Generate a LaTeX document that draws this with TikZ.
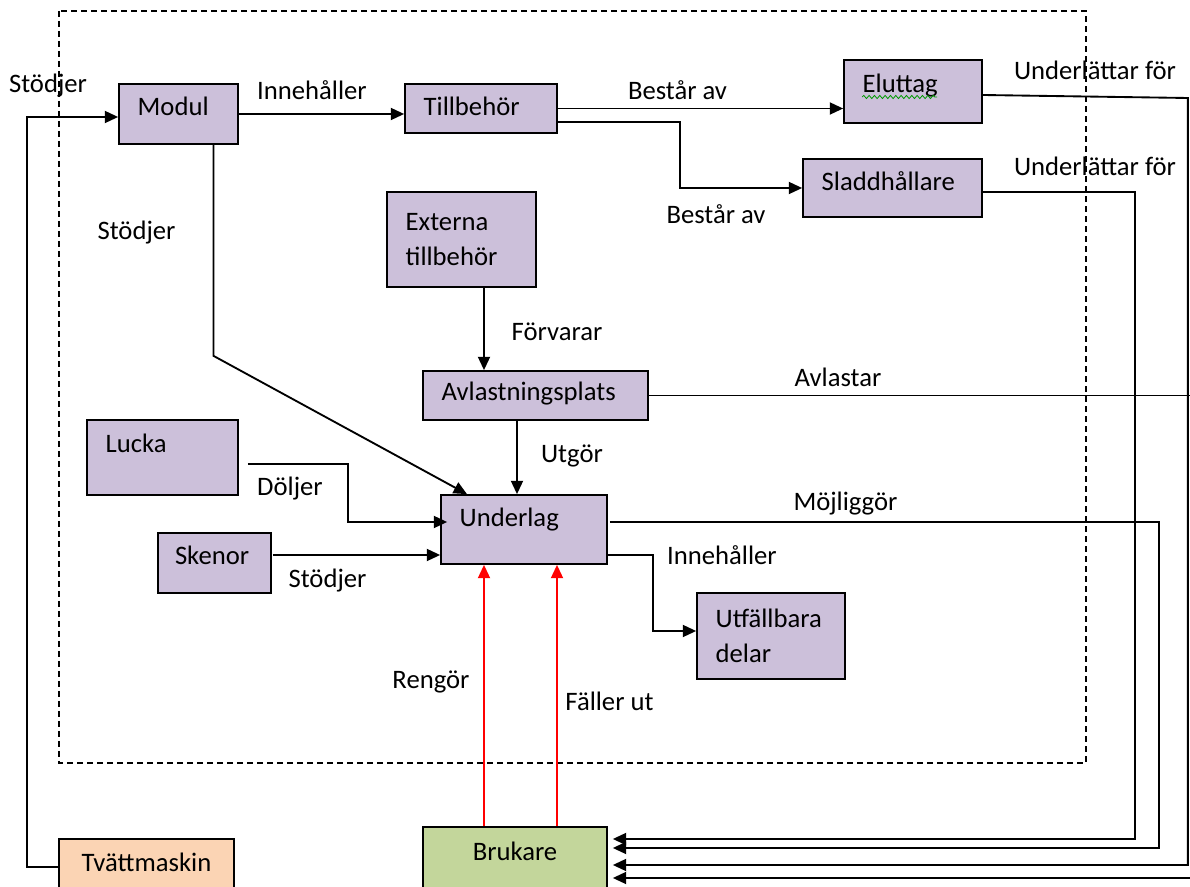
\documentclass[tikz,border=0pt]{standalone}
\usepackage{fontspec}
\setmainfont{Carlito}
\usetikzlibrary{arrows.meta,calc,decorations.pathmorphing}
\definecolor{lila}{HTML}{CCC0DA}
\definecolor{gron}{HTML}{C3D69B}
\definecolor{persika}{HTML}{FBD4B4}
\definecolor{rod}{HTML}{FF0000}
\newcommand{\tekst}{\fontsize{20}{26}\selectfont}
\hyphenpenalty=10000
\begin{document}
\begin{tikzpicture}[x=0.75pt,y=-0.75pt]
        \tikzset{every node/.style={font=\tekst, text=black},
            blok/.style={draw, line width=1.3pt, fill=lila, inner xsep=14pt, inner ysep=0pt, align=left},
            rad/.style={text height=14pt, text depth=#1},
            etikett/.style={inner sep=0pt, text height=14pt, text depth=2pt},
            pil/.style={draw, line width=1.4pt, -{Triangle[length=10pt,width=9pt]}},
            rodpil/.style={pil, draw=rod},
            ram/.style={draw, line width=1.2pt, dash pattern=on 4.5pt off 3pt}}
        \useasboundingbox (0,0) rectangle (1190,887);
        \draw[ram] (59,11) rectangle (1086,763);

        \node[blok, rad=11pt, text width=61.25pt, minimum height=45pt] (modul) at (178.5,114) {Modul};
        \node[blok, rad=3pt, text width=86pt, minimum height=36.75pt] (tillb) at (481,108.5) {Tillbehör};
        \node[blok, rad=11.75pt, text width=75.5pt, minimum height=47.25pt] (elut) at (913,91.5) {Eluttag};
        \node[blok, rad=9.5pt, text width=106.25pt, minimum height=43.5pt] (sladd) at (892.5,188) {Sladdhållare};
        \node[blok, text width=83.75pt, minimum height=71.25pt] (externa) at (461.5,239.5) {Externa\\tillbehör};
        \node[blok, rad=5.75pt, text width=140.75pt, minimum height=36.75pt] (avlast) at (535.5,395.5) {Avlastningsplats};
        \node[blok, rad=20.75pt, text width=85.25pt, minimum height=56.25pt] (lucka) at (162.5,457.5) {Lucka};
        \node[blok, rad=17.75pt, text width=96.5pt, minimum height=51.75pt] (underlag) at (524,529.5) {Underlag};
        \node[blok, rad=11pt, inner xsep=12.75pt, text width=59.25pt, minimum height=45pt] (skenor) at (214.5,563) {Skenor};
        \node[blok, text width=83pt, minimum height=64.5pt] (utf) at (771,636) {Utfällbara\\delar};
        \node[blok, fill=gron, align=center, rad=15.5pt, text width=110pt, minimum height=51pt] (brukare) at (515,861) {Brukare};
        \node[blok, fill=persika, align=center, rad=8pt, text width=103.25pt, minimum height=42pt] (tvatt) at (146.5,867) {Tvättmaskin};

        \draw[green!60!black, line width=0.6pt, decorate, decoration={snake, amplitude=1.2pt, segment length=4pt}]
            ($(elut.west)+(19,5.5)$) -- ++(75,0);

        \coordinate (ex) at ($(externa.south)+(22.5,0)$);
        \coordinate (av) at ($(avlast.south)+(-18.5,0)$);
        \coordinate (sk) at ($(skenor.east)+(1,-8)$);
        \coordinate (br1) at ($(brukare.north)+(-31,0)$);
        \coordinate (br2) at ($(brukare.north)+(42,0)$);

        \draw[pil] (tvatt.west) -- ++(-31,0) |- ($(modul.west)+(0,3)$);
        \draw[pil] (modul.east) -- (modul.east -| tillb.west);
        \draw[pil] (tillb.east) -- (tillb.east -| elut.west);
        \draw[pil] ($(tillb.east)+(0,13.5)$) -- ++(122,0) |- (sladd.west);
        \draw[pil] ($(modul.south)+(35,0)$) -- ++(0,211) -- ($(underlag.north)+(-57,0)$);
        \draw[pil] (ex) -- (ex |- avlast.north);
        \draw[pil] (av) -- (av |- underlag.north);
        \draw[pil] ($(lucka.east)+(9,6.5)$) -- ++(100,0) |- ($(underlag.west)+(7,-7.5)$);
        \draw[pil] (sk) -- (sk -| underlag.west);
        \draw[pil] ($(underlag.east)+(0,25.5)$) -- ++(45,0) |- ($(utf.west)+(0,-5)$);
        \draw[pil] ($(sladd.east)+(0,4)$) -- ++(152,0) |- ($(brukare.east)+(5,-22)$);
        \draw[pil] ($(underlag.east)+(2,-7.5)$) -- ++(549,0) |- ($(brukare.east)+(5,-13)$);
        \draw[pil] ($(elut.east)+(0,3.5)$) -- ++(205,3) |- ($(brukare.east)+(5,4)$);
        \draw[pil] (avlast.east) -- ++(550,0) |- ($(brukare.east)+(5,17)$);
        \draw[rodpil] (br1) -- (br1 |- underlag.south);
        \draw[rodpil] (br2) -- (br2 |- underlag.south);

        \node[etikett] (stod1) at (48,85) {Stödjer};
        \node[etikett] (inn1) at (312,92) {Innehåller};
        \node[etikett] (best1) at (677.5,92) {Består av};
        \node[etikett] (best2) at (716,216) {Består av};
        \node[etikett] (unl1) at (1095,72) {Underlättar för};
        \node[etikett] (unl2) at (1095,168) {Underlättar för};
        \node[etikett] (stod2) at (136.5,232) {Stödjer};
        \node[etikett] (forv) at (557,333) {Förvarar};
        \node[etikett] (avl) at (838,379) {Avlastar};
        \node[etikett] (utg) at (572,455) {Utgör};
        \node[etikett] (dol) at (290,488) {Döljer};
        \node[etikett] (moj) at (845.5,503) {Möjliggör};
        \node[etikett] (inn2) at (722,557) {Innehåller};
        \node[etikett] (stod3) at (327.5,580) {Stödjer};
        \node[etikett] (reng) at (431,681) {Rengör};
        \node[etikett] (fall) at (609.5,703) {Fäller ut};
    \end{tikzpicture}
\end{document}
